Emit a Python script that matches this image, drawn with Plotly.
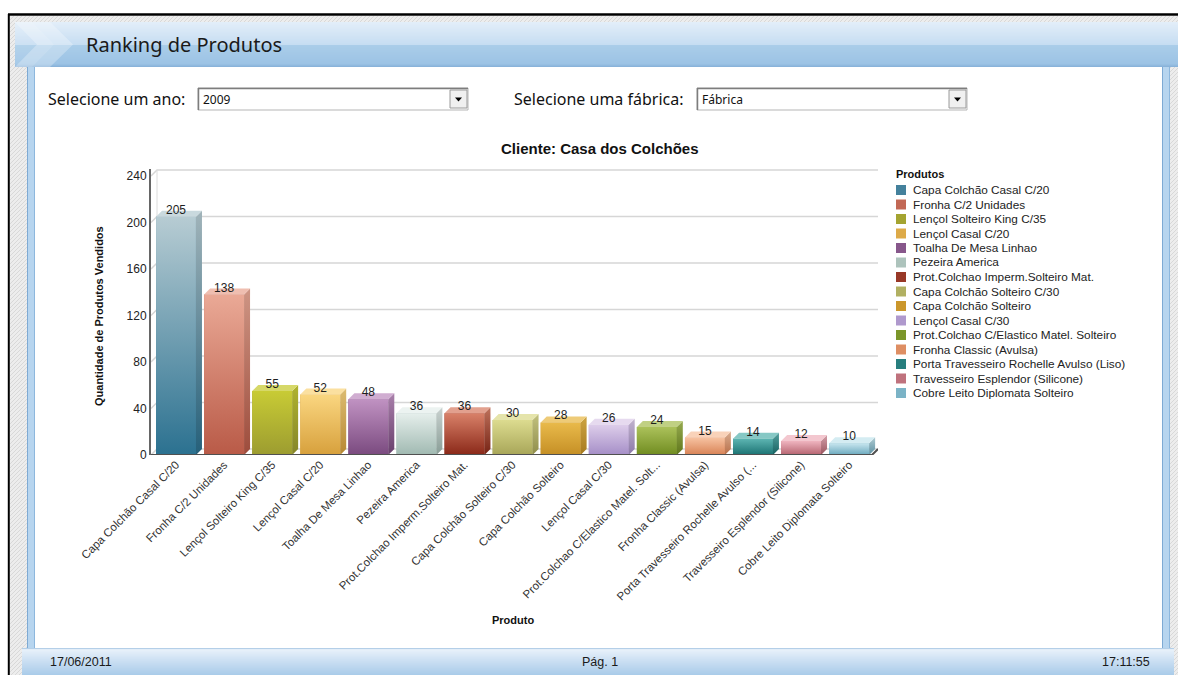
import plotly.graph_objects as go

# ---------------------------------------------------------------- data
produtos = [
    "Capa Colchão Casal C/20",
    "Fronha C/2 Unidades",
    "Lençol Solteiro King C/35",
    "Lençol Casal C/20",
    "Toalha De Mesa Linhao",
    "Pezeira America",
    "Prot.Colchao Imperm.Solteiro Mat.",
    "Capa Colchão Solteiro C/30",
    "Capa Colchão Solteiro",
    "Lençol Casal C/30",
    "Prot.Colchao C/Elastico Matel. Solteiro",
    "Fronha Classic (Avulsa)",
    "Porta Travesseiro Rochelle Avulso (Liso)",
    "Travesseiro Esplendor (Silicone)",
    "Cobre Leito Diplomata Solteiro",
]
rotulos_eixo = [
    "Capa Colchão Casal C/20",
    "Fronha C/2 Unidades",
    "Lençol Solteiro King C/35",
    "Lençol Casal C/20",
    "Toalha De Mesa Linhao",
    "Pezeira America",
    "Prot.Colchao Imperm.Solteiro Mat.",
    "Capa Colchão Solteiro C/30",
    "Capa Colchão Solteiro",
    "Lençol Casal C/30",
    "Prot.Colchao C/Elastico Matel. Solt...",
    "Fronha Classic (Avulsa)",
    "Porta Travesseiro Rochelle Avulso (...",
    "Travesseiro Esplendor (Silicone)",
    "Cobre Leito Diplomata Solteiro",
]
quantidades = [205, 138, 55, 52, 48, 36, 36, 30, 28, 26, 24, 15, 14, 12, 10]
marcas_y = [0, 40, 80, 120, 160, 200, 240]

cor_base = ["#2b7190", "#b95a47", "#9c9c30", "#d7a03c", "#7a4a7f",
            "#a0b9b1", "#8a2818", "#a8a658", "#c58f25", "#a58ec7",
            "#708c20", "#d88255", "#1b7272", "#b5636f", "#6aa8bd"]
cor_topo = ["#b7ccd3", "#eaa996", "#c8cb35", "#fad680", "#c092c2",
            "#e6efec", "#d98169", "#dcdb8f", "#e9ba4b", "#ddcdea",
            "#abc15a", "#f7c3a2", "#5db5b2", "#efb4bf", "#c6e5ee"]

ano = "2009"
fabrica = "Fábrica"
titulo_pagina = "Ranking de Produtos"
titulo_grafico = "Cliente: Casa dos Colchões"
data_rodape = "17/06/2011"
pagina_rodape = "Pág. 1"
hora_rodape = "17:11:55"

# ---------------------------------------------------------------- helpers
W, H = 1178, 675
UI_FONT = "Noto Sans, DejaVu Sans, sans-serif"
CH_FONT = "Liberation Sans, Arial, sans-serif"


def px(x):
    return x / W


def py(y):
    return 1 - y / H


def hex_rgb(c):
    c = c.lstrip("#")
    return tuple(int(c[i:i + 2], 16) for i in (0, 2, 4))


def mix(c1, c2, t):
    a, b = hex_rgb(c1), hex_rgb(c2)
    return "#%02x%02x%02x" % tuple(round(a[i] + (b[i] - a[i]) * t) for i in range(3))


shapes = []
annotations = []


def rect(x0, y0, x1, y1, fill, line=None, lw=0):
    shapes.append(dict(type="rect", xref="paper", yref="paper", layer="below",
                       x0=px(x0), x1=px(x1), y0=py(y1), y1=py(y0),
                       fillcolor=fill,
                       line=dict(color=line or fill, width=lw)))


def hline(x0, x1, y, color, lw=1):
    shapes.append(dict(type="line", xref="paper", yref="paper", layer="below",
                       x0=px(x0), x1=px(x1), y0=py(y), y1=py(y),
                       line=dict(color=color, width=lw)))


def vline(x, y0, y1, color, lw=1):
    shapes.append(dict(type="line", xref="paper", yref="paper", layer="below",
                       x0=px(x), x1=px(x), y0=py(y0), y1=py(y1),
                       line=dict(color=color, width=lw)))


def poly(points, fill, line=None, lw=0):
    d = "M " + " L ".join("%.5f,%.5f" % (px(x), py(y)) for x, y in points) + " Z"
    shapes.append(dict(type="path", xref="paper", yref="paper", layer="below",
                       path=d, fillcolor=fill, line=dict(color=line or fill, width=lw)))


def gradient(x0, y0, x1, y1, stops):
    """Vertical gradient painted as thin horizontal strips."""
    n = int(round(y1 - y0))
    for k in range(n):
        t = (k + 0.5) / n
        for (a, ca), (b, cb) in zip(stops[:-1], stops[1:]):
            if a <= t <= b:
                c = mix(ca, cb, (t - a) / (b - a) if b > a else 0)
                break
        rect(x0, y0 + k, x1, min(y0 + k + 1.6, y1), c)


def hatch(x0, y0, x1, y1, color, step=4):
    segs = []
    c = x0 + y0
    while c <= x1 + y1:
        ya = max(y0, c - x1)
        yb = min(y1, c - x0)
        if yb > ya:
            segs.append("M %.5f,%.5f L %.5f,%.5f" % (px(c - ya), py(ya), px(c - yb), py(yb)))
        c += step
    shapes.append(dict(type="path", xref="paper", yref="paper", layer="below",
                       path=" ".join(segs), line=dict(color=color, width=1)))


def text(x, y, s, size, color="#111", family=UI_FONT, xanchor="left", bold=False, angle=0):
    annotations.append(dict(xref="paper", yref="paper", x=px(x), y=py(y),
                            text="<b>%s</b>" % s if bold else s, showarrow=False,
                            xanchor=xanchor, yanchor="middle", textangle=angle,
                            font=dict(size=size, color=color, family=family)))


# ---------------------------------------------------------------- page frame
rect(10, 16, 1178, 675, "#ededed")
hatch(10, 16, 27, 675, "#d8d8d8")
hatch(1170, 16, 1178, 675, "#d8d8d8")
hatch(10, 16, 1178, 22, "#d8d8d8")
hline(8, 1178, 14.5, "#000000", 2.5)
vline(8.8, 14, 675, "#000000", 2)

# header bar
gradient(15, 22, 1178, 67, [(0, "#e3eef9"), (0.5, "#c6ddf2"), (0.51, "#aacde9"),
                            (0.93, "#9cc3e5"), (1, "#86b0d8")])
poly([(15, 22), (50, 22), (73, 44.5), (50, 67), (15, 67), (37, 44.5)], "rgba(255,255,255,0.28)")
poly([(15, 22), (32, 22), (54, 44.5), (32, 67), (15, 67)], "rgba(255,255,255,0.12)")
text(84, 45, titulo_pagina, 20, "#1a1a1a")

# side columns
for cx in (27, 1162):
    rect(cx, 67, cx + 8, 648, "#b7d5ef")
    vline(cx + 0.5, 67, 648, "#7eaad4", 1)
    vline(cx + 7.5, 67, 648, "#8db7dd", 1)

# content area
rect(35, 67, 1162, 648, "#ffffff")

# footer bar
gradient(22, 648, 1174, 675, [(0, "#9dc0e0"), (0.06, "#e8f1fa"), (0.5, "#c9def2"),
                              (1, "#a9cbe9")])
text(48, 662, data_rodape, 12.5, "#1a1a1a", CH_FONT)
text(600, 662, pagina_rodape, 12.5, "#1a1a1a", CH_FONT, xanchor="center")
text(1152, 662, hora_rodape, 12.5, "#1a1a1a", CH_FONT, xanchor="right")


# selectors
def combo(x0, x1, label, label_x, value):
    y0, y1 = 88, 110
    text(label_x, 99, label, 16, "#111")
    rect(x0, y0, x1, y1, "#ffffff", "#b5b5b5", 1)
    hline(x0, x1, y0 + 0.5, "#7d7d7d", 1.5)
    vline(x0 + 0.5, y0, y1, "#7d7d7d", 1.5)
    rect(x1 - 18, y0 + 2, x1 - 1, y1 - 2, "#f0f0f0", "#9a9a9a", 1)
    cx = x1 - 9.5
    poly([(cx - 3.5, 97.5), (cx + 3.5, 97.5), (cx, 101.5)], "#000000")
    text(x0 + 3, 99.5, value, 12, "#111")


combo(198, 468, "Selecione um ano:", 46, ano)
combo(697, 967, "Selecione uma fábrica:", 512, fabrica)

# ---------------------------------------------------------------- chart
pos = list(range(len(quantidades)))
X0, X1 = -0.52, 14.6          # x range (category units)
Y_MAX = 246
DX = 0.125                    # depth of the 3-D effect, x units
DY = 5.16                     # depth of the 3-D effect, y units
BW = 0.83                     # bar width

fig = go.Figure()

# front faces (solid base colour; gradient laid over below)
fig.add_trace(go.Bar(x=pos, y=quantidades, width=BW, marker=dict(color=cor_base, line=dict(width=0)),
                     hoverinfo="skip", showlegend=False))

for i, v in enumerate(quantidades):
    xl, xr = i - BW / 2, i + BW / 2
    # front face gradient
    fig.add_trace(go.Scatter(
        x=[xl, xr, xr, xl, xl], y=[0, 0, v, v, 0], mode="lines", fill="toself",
        line=dict(width=0), hoverinfo="skip", showlegend=False,
        fillgradient=dict(type="vertical", start=0, stop=v,
                          colorscale=[[0, cor_base[i]], [1, cor_topo[i]]])))
    # side face
    fig.add_trace(go.Scatter(
        x=[xr, xr + DX, xr + DX, xr, xr], y=[0, DY, v + DY, v, 0], mode="lines", fill="toself",
        line=dict(width=0), hoverinfo="skip", showlegend=False,
        fillgradient=dict(type="vertical", start=0, stop=v + DY,
                          colorscale=[[0, mix(cor_base[i], "#000000", 0.15)],
                                      [1, mix(cor_topo[i], "#000000", 0.12)]])))
    # top face
    fig.add_trace(go.Scatter(
        x=[xl, xl + DX, xr + DX, xr, xl], y=[v, v + DY, v + DY, v, v], mode="lines", fill="toself",
        line=dict(width=0), fillcolor=mix(cor_topo[i], "#ffffff", 0.25),
        hoverinfo="skip", showlegend=False))

# value labels
fig.add_trace(go.Scatter(x=pos, y=quantidades, mode="text", text=[str(v) for v in quantidades],
                         textposition="top center", hoverinfo="skip", showlegend=False,
                         textfont=dict(size=12, color="#1e1e1e", family=CH_FONT)))

# back wall grid lines
for v in marcas_y:
    shapes.append(dict(type="path", xref="x", yref="y", layer="below",
                       path="M %f,%f L %f,%f L %f,%f" % (X0, v, X0 + DX, v + DY, X1, v + DY),
                       line=dict(color="#d6d6d6", width=1.5)))
shapes.append(dict(type="line", xref="x", yref="y", layer="below",
                   x0=X0 + DX, x1=X0 + DX, y0=DY, y1=marcas_y[-1] + DY,
                   line=dict(color="#dcdcdc", width=1)))
# floor edge
shapes.append(dict(type="path", xref="x", yref="y", layer="above",
                   path="M %f,0 L %f,0 L %f,%f" % (X0, X1 - DX, X1, DY),
                   line=dict(color="#505050", width=2)))

# chart titles
text(600, 148, titulo_grafico, 15, "#111", CH_FONT, xanchor="center", bold=True)
text(99, 316, "Quantidade de Produtos Vendidos", 11, "#111", CH_FONT, xanchor="center",
     bold=True, angle=-90)
text(513, 620, "Produto", 11, "#111", CH_FONT, xanchor="center", bold=True)

# legend
text(894, 174, "Produtos", 11, "#111", CH_FONT, bold=True)
for i, nome in enumerate(produtos):
    yc = 190 + i * 14.5
    rect(896, yc - 5, 906, yc + 5, mix(cor_base[i], cor_topo[i], 0.18))
    text(911, yc, nome, 11.8, "#222", CH_FONT)

fig.update_layout(
    width=W, height=H, autosize=False,
    margin=dict(l=0, r=0, t=0, b=0),
    paper_bgcolor="#ffffff", plot_bgcolor="rgba(0,0,0,0)",
    barmode="overlay",
    shapes=shapes, annotations=annotations,
    xaxis=dict(domain=[px(151), px(878)], range=[X0, X1], tickmode="array",
               tickvals=pos, ticktext=rotulos_eixo, tickangle=-45, showgrid=False,
               zeroline=False, showline=False, ticks="", automargin=False,
               tickfont=dict(size=11.5, color="#333", family=CH_FONT), fixedrange=True),
    yaxis=dict(domain=[py(455), py(169)], range=[0, Y_MAX], tickmode="array",
               tickvals=marcas_y, showgrid=False, zeroline=False, showline=True,
               linecolor="#666666", linewidth=2, ticks="", automargin=False,
               tickfont=dict(size=12, color="#222", family=CH_FONT), fixedrange=True),
)

fig.write_html("out.html", config={"displayModeBar": False})
